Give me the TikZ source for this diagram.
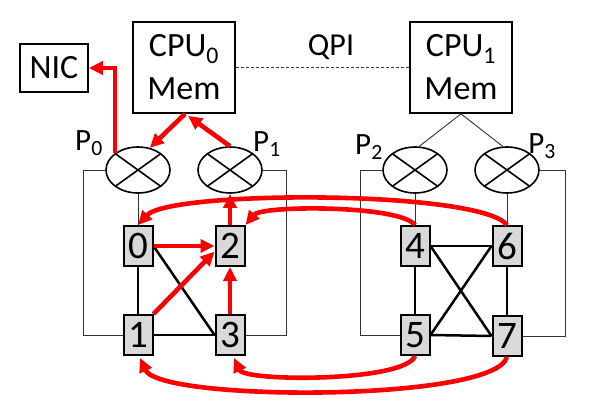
\documentclass[tikz,border=0pt]{standalone}
\usepackage{fontspec}
\setmainfont{Carlito}
\usetikzlibrary{shapes.geometric,arrows.meta,calc}
\definecolor{redline}{RGB}{250,0,0}
\definecolor{boxgray}{RGB}{217,217,217}
\begin{document}
\begin{tikzpicture}[x=1pt,y=-1pt,
  bigbox/.style={draw,line width=1.7pt,inner sep=0pt,align=center,font=\fontsize{34}{43}\selectfont},
  switchnode/.style={draw,ellipse,line width=1.6pt,minimum width=64pt,minimum height=46pt,inner sep=0pt,
    path picture={\draw[line width=1.6pt] (path picture bounding box.north west) -- (path picture bounding box.south east)
      (path picture bounding box.south west) -- (path picture bounding box.north east);}},
  gpubox/.style={draw,line width=2pt,fill=boxgray,minimum width=29pt,minimum height=40pt,inner sep=0pt,
    font=\fontsize{39}{39}\selectfont},
  plabel/.style={font=\fontsize{31}{31}\selectfont,inner sep=0pt},
  thin/.style={black!80,line width=0.9pt},
  link/.style={black,line width=2.5pt},
  redarrow/.style={redline,line width=4.6pt,-{Triangle[length=14pt,width=13pt]}},
]
\useasboundingbox (0,0) rectangle (597,415);
% boxes
\node[bigbox,minimum width=68pt,minimum height=48pt] (nic) at (54,68) {NIC};
\node[bigbox,minimum width=102pt,minimum height=91pt] (cpu0) at (184,67.5) {CPU\textsubscript{0}\\Mem};
\node[bigbox,minimum width=102pt,minimum height=91pt] (cpu1) at (461,67.5) {CPU\textsubscript{1}\\Mem};
\node[font=\fontsize{32}{32}\selectfont,inner sep=0pt] (qpi) at (331,47) {QPI};
% switches
\node[switchnode] (p0) at (138,170) {};
\node[switchnode] (p1) at (230,170) {};
\node[switchnode] (p2) at (415,170) {};
\node[switchnode] (p3) at (507,170) {};
\node[plabel] (l0) at (89,143) {P\textsubscript{0}};
\node[plabel] (l1) at (267,144) {P\textsubscript{1}};
\node[plabel] (l2) at (369,147) {P\textsubscript{2}};
\node[plabel] (l3) at (542,146) {P\textsubscript{3}};
% gpus
\node[gpubox] (n0) at (138,246) {0};
\node[gpubox] (n2) at (230,246) {2};
\node[gpubox] (n1) at (138,335) {1};
\node[gpubox] (n3) at (230,335) {3};
\node[gpubox] (n4) at (415,246) {4};
\node[gpubox] (n6) at (507,246) {6};
\node[gpubox] (n5) at (415,335) {5};
\node[gpubox] (n7) at (507,336) {7};
% thin wiring
\draw[thin,dashed,dash pattern=on 3pt off 2pt] (cpu0.east) -- (cpu1.west);
\draw[thin] (p0.west) -- (83,170) -- (83,335) -- (n1.west);
\draw[thin] (p1.east) -- (286,170) -- (286,335) -- (n3.east);
\draw[thin] (p0.south) -- (n0.north);
\draw[thin] (p2.west) -- (360,170) -- (360,335) -- (n5.west);
\draw[thin] (p3.east) -- (565,170) -- (565,336) -- (n7.east);
\draw[thin] (p2.south) -- (n4.north);
\draw[thin] (p3.south) -- (n6.north);
\draw[thin] (cpu1.south) -- (p2.80);
\draw[thin] (cpu1.south) -- (p3.100);
% gpu links
\draw[link] (n0.south) -- (n1.north);
\draw[link] (n1.east) -- (n3.west);
\draw[link] (n0.east) -- (n3.west);
\draw[link] (n4.east) -- (n6.west);
\draw[link] (n5.east) -- (n7.west);
\draw[link] (n4.south) -- (n5.north);
\draw[link] (n6.south) -- (n7.north);
\draw[link] (n4.east) -- (n7.west);
\draw[link] (n5.east) -- (n6.west);
% red traffic
\draw[redarrow] (p0.north west) -- (p0.north west |- nic.east) -- (nic.east);
\draw[redarrow] ($(cpu0.south)+(1,0)$) -- (p0.62);
\draw[redarrow] (p1.north) -- ($(cpu0.south)+(4,2)$);
\draw[redarrow] (n0.east) -- (n2.west);
\draw[redarrow] (n1.north east) -- (n2.200);
\draw[redarrow] (n3.north) -- (n2.south);
\draw[redarrow] (n2.north) -- (p1.south);
\draw[redarrow] (n6.north) .. controls (480,190) and (170,190) .. (n0.north);
\draw[redarrow] (n4.north) .. controls (400,205) and (262,205) .. (n2.north east);
\draw[redarrow] (n5.south) .. controls (405,382) and (245,382) .. ($(n3.south)+(4,2)$);
\draw[redarrow] (n7.south) .. controls (495,402) and (160,402) .. ($(n1.south)+(2,2)$);
\end{tikzpicture}
\end{document}
